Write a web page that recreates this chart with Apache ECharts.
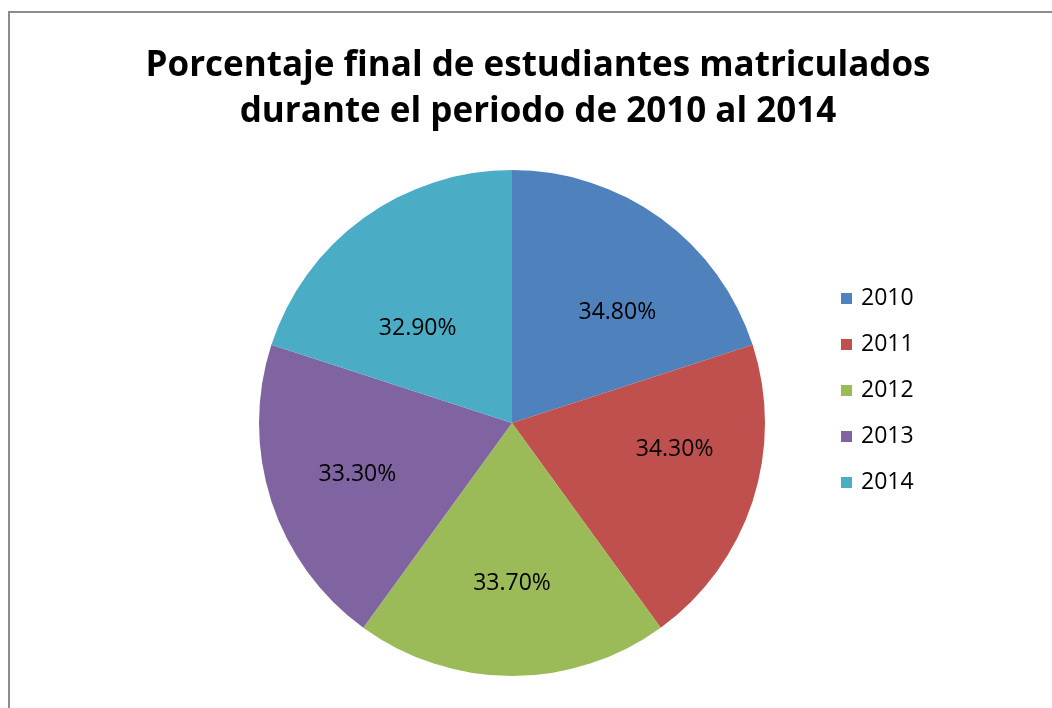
<!DOCTYPE html>
<html lang="es">
<head>
  <meta charset="UTF-8">
  <title>Porcentaje final de estudiantes matriculados</title>
  <style>
    html,body {
      width:100%;
      height:100%;
      margin: 0;
      background: #fff;
    }
    #frame {
      position: absolute;
      left: 8px;
      top: 11px;
      width: 1100px;
      height: 800px;
      border-top: 2px solid #8c8c8c;
      border-left: 2px solid #8c8c8c;
    }
  </style>
</head>
<body>
  <div id="frame"></div>
  <div id="chart" style="position:absolute;left:0;top:0;width:1052px;height:708px"></div>
  <script src="https://cdn.jsdelivr.net/npm/echarts@6/dist/echarts.min.js"></script>
  <script>
    var anios = ['2010', '2011', '2012', '2013', '2014'];
    var porcentajes = [34.8, 34.3, 33.7, 33.3, 32.9];
    // each slice in the picture is ~72 degrees, i.e. 20% of the pie
    var tamanos = [20, 20, 20, 20, 20];
    var colores = ['#4F81BD', '#C0504D', '#9BBB59', '#8064A2', '#4BACC6'];
    // small nudges so the labels sit where Excel put them
    var desplazamientos = [[16, 12], [18, -21], [0, 8], [-10, 4], [-5, 28]];

    var myChart = echarts.init(document.getElementById('chart'));

    var option = {
      animation: false,
      title: {
        text: 'Porcentaje final de estudiantes matriculados\ndurante el periodo de 2010 al 2014',
        left: 533,
        top: 38,
        textAlign: 'center',
        textStyle: {
          fontFamily: 'Open Sans',
          fontWeight: 'bold',
          fontSize: 35,
          lineHeight: 46,
          color: '#000'
        }
      },
      legend: {
        orient: 'vertical',
        left: 836,
        top: 282,
        itemWidth: 11,
        itemHeight: 11,
        itemGap: 23,
        icon: 'rect',
        data: anios,
        textStyle: { fontFamily: 'Open Sans', fontSize: 23, color: '#000', padding: [0, 0, 0, 4] }
      },
      series: [{
        type: 'pie',
        center: [512, 423],
        radius: [0, 253],
        startAngle: 90,
        clockwise: true,
        silent: true,
        label: { show: false },
        labelLine: { show: false },
        itemStyle: { borderWidth: 0 },
        data: anios.map(function (a, i) {
          return { name: a, value: tamanos[i], itemStyle: { color: colores[i] } };
        })
      }, {
        // transparent copy used only to place the labels a bit further out
        type: 'pie',
        center: [512, 423],
        radius: [0, 298],
        startAngle: 90,
        clockwise: true,
        silent: true,
        legendHoverLink: false,
        itemStyle: { color: 'rgba(0,0,0,0)' },
        label: {
          show: true,
          position: 'inside',
          fontFamily: 'Open Sans',
          fontSize: 23,
          color: '#000'
        },
        labelLine: { show: false },
        data: anios.map(function (a, i) {
          return {
            name: a + ' ',
            value: tamanos[i],
            label: {
              formatter: porcentajes[i].toFixed(2) + '%',
              offset: desplazamientos[i]
            }
          };
        })
      }]
    };

    myChart.setOption(option);
  </script>
</body>
</html>
